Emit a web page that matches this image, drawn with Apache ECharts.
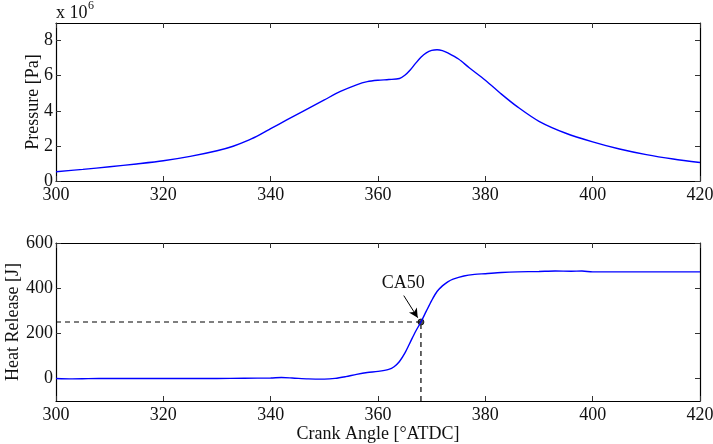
<!DOCTYPE html>
<html>
<head>
<meta charset="utf-8">
<script src="https://cdn.jsdelivr.net/npm/echarts@6/dist/echarts.min.js"></script>
<style>
  html, body { margin: 0; padding: 0; background: #fff; }
  #chart { width: 713px; height: 444px; }
</style>
</head>
<body>
<div id="chart"></div>
<script>
// Cylinder pressure trace (units of 1e6 Pa) against crank angle
const pressureAngle = [300, 305, 310, 315, 320, 325, 330, 333, 336, 338, 340, 343, 346, 350, 353, 356, 358, 360, 362, 364, 365, 366, 367, 368, 369, 370, 371, 372, 373, 375, 377, 380, 383, 386, 390, 395, 400, 405, 410, 415, 420];
const pressureValue = [0.53, 0.66, 0.81, 0.97, 1.15, 1.40, 1.72, 1.98, 2.34, 2.64, 2.98, 3.48, 3.97, 4.62, 5.10, 5.48, 5.66, 5.74, 5.78, 5.84, 6.02, 6.32, 6.70, 7.05, 7.30, 7.44, 7.48, 7.43, 7.30, 6.95, 6.45, 5.74, 4.95, 4.22, 3.40, 2.72, 2.23, 1.82, 1.50, 1.25, 1.05];

// Cumulative heat release [J] against crank angle
const heatAngle = [300, 303, 306, 310, 315, 320, 325, 330, 335, 340, 342, 344, 347, 350, 352, 354, 356, 358, 360, 362, 363, 364, 365, 366, 367, 368, 369, 370, 371, 372, 373, 374, 376, 378, 380, 383, 386, 390, 393, 396, 398, 400, 405, 410, 415, 420];
const heatValue = [0, -2, -1, 0, 0, 0, 0, 0, 1, 2, 4, 2, -2, -3, 0, 8, 18, 26, 31, 40, 52, 75, 112, 160, 208, 250, 298, 345, 385, 410, 428, 440, 454, 461, 464, 469, 472, 474, 476, 475, 476, 472, 472, 472, 472, 472];

// 50% burn point
const ca50Angle = 368;
const ca50Heat = 250;

const xTicks = [300, 320, 340, 360, 380, 400, 420];
const pressureTicks = [0, 2, 4, 6, 8];
const heatTicks = [0, 200, 400, 600];

const FONT = "'Liberation Serif', 'Times New Roman', serif";
const BLUE = '#0000ff';

function zip(a, b) { return a.map((v, i) => [v, b[i]]); }

const frameLine = { show: true, onZero: false, lineStyle: { color: '#000', width: 1.2 } };
const tickIn = (vals) => ({ show: true, inside: true, length: 5, customValues: vals, lineStyle: { color: '#333', width: 1 } });
const tickLabel = (vals, m) => ({ show: true, customValues: vals, fontFamily: FONT, fontSize: 18, color: '#111', margin: m });
const nameStyle = { fontFamily: FONT, fontSize: 18, color: '#111' };

function xAxisPair(grid) {
  return [
    { type: 'value', gridIndex: grid, min: 300, max: 420, position: 'bottom',
      axisLine: frameLine, axisTick: tickIn(xTicks), axisLabel: tickLabel(xTicks, 5), splitLine: { show: false },
      ...(grid === 1 ? { name: 'Crank Angle [°ATDC]', nameLocation: 'middle', nameGap: 24,
          nameMoveOverlap: false, nameTextStyle: nameStyle } : {}) },
    { type: 'value', gridIndex: grid, min: 300, max: 420, position: 'top',
      axisLine: frameLine, axisTick: tickIn(xTicks), axisLabel: { show: false }, splitLine: { show: false } }
  ];
}

function yAxisPair(grid, min, max, ticks, name, gap) {
  return [
    { type: 'value', gridIndex: grid, min: min, max: max, position: 'left',
      axisLine: frameLine, axisTick: tickIn(ticks), axisLabel: tickLabel(ticks, 3), splitLine: { show: false },
      name: name, nameLocation: 'middle', nameGap: gap, nameMoveOverlap: false,
      nameTextStyle: nameStyle },
    { type: 'value', gridIndex: grid, min: min, max: max, position: 'right',
      axisLine: frameLine, axisTick: tickIn(ticks), axisLabel: { show: false }, splitLine: { show: false } }
  ];
}

const chart = echarts.init(document.getElementById('chart'), null, { renderer: 'canvas' });

chart.setOption({
  backgroundColor: '#fff',
  animation: false,
  textStyle: { fontFamily: FONT },
  grid: [
    { left: 56, right: 13, top: 23, height: 158, containLabel: false, outerBoundsMode: 'none' },
    { left: 56, right: 13, top: 243, height: 158, containLabel: false, outerBoundsMode: 'none' }
  ],
  xAxis: [...xAxisPair(0), ...xAxisPair(1)],
  yAxis: [
    ...yAxisPair(0, 0, 9, pressureTicks, 'Pressure [Pa]', 14),
    ...yAxisPair(1, -100, 600, heatTicks, 'Heat Release [J]', 34)
  ],
  graphic: [
    { type: 'text', left: 56, top: 4, style: { text: 'x 10', fontFamily: FONT, fontSize: 18, fill: '#111' } },
    { type: 'text', left: 88, top: 0, style: { text: '6', fontFamily: FONT, fontSize: 12, fill: '#111' } }
  ],
  series: [
    {
      type: 'line', xAxisIndex: 0, yAxisIndex: 0, smooth: 0.3, showSymbol: false,
      lineStyle: { color: BLUE, width: 1.4 },
      data: zip(pressureAngle, pressureValue)
    },
    // dashed guides to the CA50 point
    {
      type: 'line', xAxisIndex: 2, yAxisIndex: 2, showSymbol: false, silent: true,
      lineStyle: { color: '#000', width: 1.2, type: [5, 4] },
      data: [[300, ca50Heat], [ca50Angle, ca50Heat]]
    },
    {
      type: 'line', xAxisIndex: 2, yAxisIndex: 2, showSymbol: false, silent: true,
      lineStyle: { color: '#333', width: 1.5, type: [5, 4] },
      data: [[ca50Angle, -100], [ca50Angle, ca50Heat]]
    },
    {
      type: 'line', xAxisIndex: 2, yAxisIndex: 2, smooth: 0.3, showSymbol: false,
      lineStyle: { color: BLUE, width: 1.4 },
      data: zip(heatAngle, heatValue),
      markLine: {
        silent: true,
        symbol: ['none', 'arrow'], symbolSize: [7, 9],
        label: { show: false },
        lineStyle: { color: '#000', width: 1, type: 'solid' },
        data: [[{ coord: [ca50Angle - 3.2, 367] }, { coord: [ca50Angle - 0.6, 269] }]]
      }
    },
    {
      type: 'scatter', xAxisIndex: 2, yAxisIndex: 2, symbolSize: 6,
      itemStyle: { color: '#222', borderColor: '#000', borderWidth: 1 },
      data: [[ca50Angle, ca50Heat]],
      label: { show: false },
      markPoint: {
        symbol: 'circle', symbolSize: 0,
        label: { show: true, formatter: 'CA50', fontFamily: FONT, fontSize: 18, color: '#111' },
        data: [{ coord: [ca50Angle - 3.3, 420] }]
      }
    }
  ]
});
</script>
</body>
</html>
